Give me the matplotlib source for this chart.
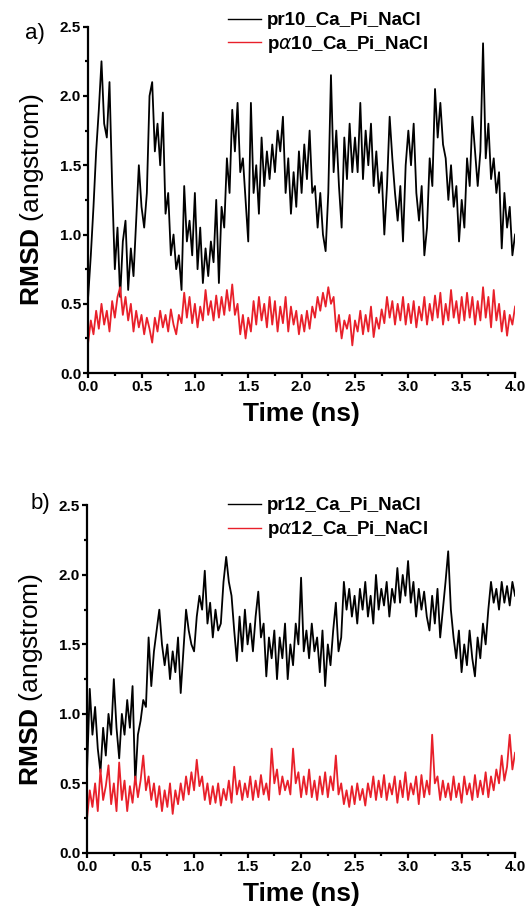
import numpy as np
import matplotlib
matplotlib.use('Agg')
import matplotlib.pyplot as plt
from matplotlib.ticker import MultipleLocator

plt.rcParams['font.family'] = ['Liberation Sans', 'DejaVu Sans']
plt.rcParams['mathtext.fontset'] = 'custom'
plt.rcParams['mathtext.rm'] = 'Liberation Sans'
plt.rcParams['mathtext.bf'] = 'Liberation Sans:bold'

# time axis (ns), one value read every 0.025 ns
time_ns = np.arange(161) * 0.025

# panel a, values
pr10 = [0.55, 0.85, 1.2, 1.6, 1.9, 2.25, 1.8, 1.7, 2.1, 1.35,
        0.75, 1.05, 0.55, 0.95, 1.1, 0.6, 0.9, 0.7, 1.1, 1.5,
        1.2, 1.05, 1.3, 2.0, 2.1, 1.6, 1.8, 1.5, 1.88, 1.15,
        1.3, 0.85, 1.0, 0.75, 0.85, 0.6, 1.35, 0.95, 1.1, 0.85,
        1.3, 0.75, 1.05, 0.65, 0.9, 0.7, 0.95, 0.8, 1.25, 0.65,
        1.2, 1.05, 1.55, 1.3, 1.9, 1.6, 1.95, 1.45, 1.55, 1.25,
        0.95, 1.95, 1.3, 1.5, 1.15, 1.7, 1.35, 1.6, 1.4, 1.65,
        1.45, 1.75, 1.6, 1.85, 1.3, 1.55, 1.15, 1.45, 1.2, 1.6,
        1.3, 1.65, 1.4, 1.75, 1.3, 1.35, 1.05, 1.3, 1.0, 0.88,
        1.3, 2.15, 1.45, 1.75, 1.35, 1.05, 1.7, 1.4, 1.8, 1.45,
        1.7, 1.45, 1.95, 1.4, 1.75, 1.5, 1.8, 1.35, 1.6, 1.3,
        1.45, 1.0, 1.35, 1.85, 1.55, 1.3, 1.1, 1.35, 0.95, 1.5,
        1.75, 1.5, 1.8, 1.3, 1.1, 1.35, 0.85, 1.05, 1.55, 1.35,
        2.05, 1.7, 1.95, 1.65, 1.55, 1.25, 1.5, 1.2, 1.35, 0.95,
        1.25, 1.05, 1.55, 1.35, 1.85, 1.6, 1.35, 1.6, 2.38, 1.55,
        1.8, 1.4, 1.55, 1.3, 1.45, 0.9, 1.3, 1.05, 1.2, 0.85,
        1.0]
pa10 = [0.22, 0.38, 0.28, 0.45, 0.32, 0.5, 0.35, 0.45, 0.3, 0.52,
        0.4, 0.55, 0.62, 0.42, 0.55, 0.38, 0.5, 0.3, 0.45, 0.33,
        0.42, 0.28, 0.4, 0.32, 0.22, 0.4, 0.3, 0.45, 0.33, 0.42,
        0.3, 0.46, 0.35, 0.28, 0.42, 0.36, 0.58, 0.4, 0.55, 0.36,
        0.5, 0.33, 0.48, 0.38, 0.6, 0.42, 0.52, 0.38, 0.56, 0.4,
        0.55, 0.42, 0.6, 0.45, 0.64, 0.42, 0.5, 0.28, 0.42, 0.25,
        0.4, 0.3, 0.52, 0.35, 0.55, 0.38, 0.5, 0.33, 0.55, 0.35,
        0.52, 0.3, 0.48, 0.36, 0.55, 0.3, 0.48, 0.35, 0.45, 0.28,
        0.42, 0.3, 0.45, 0.32, 0.48, 0.4, 0.55, 0.45, 0.58, 0.48,
        0.62, 0.5, 0.55, 0.3, 0.42, 0.25, 0.38, 0.32, 0.42, 0.2,
        0.38, 0.3, 0.45, 0.28, 0.42, 0.3, 0.48, 0.26, 0.4, 0.32,
        0.46, 0.36, 0.55, 0.4, 0.52, 0.35, 0.5, 0.38, 0.55, 0.35,
        0.5, 0.36, 0.52, 0.33, 0.48, 0.38, 0.55, 0.35, 0.5, 0.38,
        0.56, 0.4, 0.58, 0.35, 0.5, 0.38, 0.6, 0.4, 0.52, 0.36,
        0.55, 0.38, 0.58, 0.4, 0.55, 0.35, 0.52, 0.38, 0.62, 0.4,
        0.55, 0.33, 0.6, 0.38, 0.5, 0.3, 0.45, 0.27, 0.42, 0.35,
        0.48]

# panel b
pr12 = [0.6, 1.18, 0.85, 1.05, 0.75, 0.58, 0.9, 0.7, 1.0, 0.85,
        1.25, 0.9, 0.68, 1.0, 0.85, 1.1, 0.9, 1.2, 0.5, 0.85,
        0.95, 1.1, 1.05, 1.55, 1.2, 1.45, 1.6, 1.75, 1.5, 1.35,
        1.5, 1.25, 1.45, 1.3, 1.55, 1.15, 1.45, 1.75, 1.6, 1.5,
        1.45, 1.7, 1.85, 1.75, 2.03, 1.65, 1.8, 1.55, 1.75, 1.6,
        1.65, 1.95, 2.13, 1.95, 1.85, 1.6, 1.38, 1.7, 1.45, 1.75,
        1.5, 1.65, 1.45, 1.7, 1.88, 1.55, 1.65, 1.27, 1.55, 1.4,
        1.6, 1.25, 1.55, 1.4, 1.65, 1.25, 1.5, 1.35, 1.65, 1.5,
        1.98, 1.45, 1.6, 1.4, 1.65, 1.45, 1.55, 1.3, 1.6, 1.2,
        1.5, 1.35, 1.6, 1.8, 1.45, 1.55, 1.95, 1.75, 1.9, 1.7,
        1.85, 1.65, 1.9, 1.75, 1.95, 1.7, 1.85, 1.65, 2.0, 1.75,
        1.9, 1.78, 1.95, 1.7, 1.9, 1.8, 2.05, 1.8, 2.0, 1.85,
        2.1, 1.8, 1.95, 1.7, 1.9, 1.75, 1.88, 1.7, 1.6, 1.85,
        1.65, 1.9, 1.55, 1.75, 1.95, 2.17, 1.75, 1.55, 1.4, 1.6,
        1.3, 1.5, 1.35, 1.6, 1.4, 1.27, 1.55, 1.4, 1.65, 1.5,
        1.75, 1.95, 1.8, 1.9, 1.75, 1.95, 1.8, 1.92, 1.78, 1.95,
        1.85]
pa12 = [0.25, 0.45, 0.33, 0.5, 0.3, 0.6, 0.38, 0.48, 0.63, 0.35,
        0.5, 0.3, 0.65, 0.38, 0.52, 0.3, 0.48, 0.36, 0.55, 0.4,
        0.52, 0.7, 0.45, 0.55, 0.38, 0.5, 0.33, 0.48, 0.3, 0.45,
        0.33, 0.5, 0.28, 0.45, 0.35, 0.5, 0.38, 0.55, 0.42, 0.58,
        0.45, 0.67, 0.48, 0.55, 0.38, 0.5, 0.35, 0.48, 0.36, 0.5,
        0.34, 0.46, 0.38, 0.52, 0.36, 0.62, 0.42, 0.52, 0.38, 0.5,
        0.4, 0.55, 0.38, 0.52, 0.4, 0.56, 0.42, 0.5, 0.38, 0.75,
        0.5, 0.6, 0.42, 0.55, 0.45, 0.52, 0.42, 0.75, 0.5, 0.58,
        0.4, 0.55, 0.42, 0.6, 0.4, 0.52, 0.38, 0.55, 0.42, 0.58,
        0.4, 0.55, 0.45, 0.7, 0.42, 0.5, 0.35, 0.45, 0.33, 0.48,
        0.35, 0.5, 0.38, 0.46, 0.34, 0.5, 0.4, 0.55, 0.38, 0.52,
        0.4, 0.56, 0.38, 0.5, 0.42, 0.55, 0.36, 0.52, 0.4, 0.58,
        0.38, 0.5, 0.42, 0.55, 0.35, 0.56, 0.4, 0.52, 0.42, 0.85,
        0.5, 0.55, 0.38, 0.52, 0.4, 0.5, 0.38, 0.55, 0.4, 0.5,
        0.36, 0.55, 0.42, 0.5, 0.38, 0.56, 0.4, 0.52, 0.42, 0.58,
        0.4, 0.55, 0.45, 0.6, 0.5, 0.7, 0.52, 0.62, 0.85, 0.6,
        0.72]

panels = [
    ('a)', pr10, pa10, 'pr10_Ca_Pi_NaCl', r'p$\alpha$10_Ca_Pi_NaCl'),
    ('b)', pr12, pa12, 'pr12_Ca_Pi_NaCl', r'p$\alpha$12_Ca_Pi_NaCl'),
]
# [left, bottom, width, height] in figure fractions
boxes = [[0.166, 0.594, 0.804, 0.377], [0.164, 0.072, 0.806, 0.378]]
legend_y = [0.995, 0.467]
label_pos = [(0.047, 0.964), (0.057, 0.452)]

fig = plt.figure(figsize=(5.31, 9.19), dpi=100)

for k, (tag, black, red, lab_b, lab_r) in enumerate(panels):
    ax = fig.add_axes(boxes[k])
    ax.plot(time_ns, black, color='black', lw=1.3, label=lab_b)
    ax.plot(time_ns, red, color='#e8202a', lw=1.3, label=lab_r)
    ax.set_xlim(0, 4.0)
    ax.set_ylim(0, 2.5)
    ax.xaxis.set_major_locator(MultipleLocator(0.5))
    ax.xaxis.set_minor_locator(MultipleLocator(0.25))
    ax.yaxis.set_major_locator(MultipleLocator(0.5))
    ax.yaxis.set_minor_locator(MultipleLocator(0.25))
    for s in ['top', 'right']:
        ax.spines[s].set_visible(False)
    for s in ['left', 'bottom']:
        ax.spines[s].set_linewidth(1.6)
    ax.tick_params(which='major', direction='out', length=3.5, width=1.6,
                   labelsize=11, pad=1.5)
    ax.tick_params(which='minor', direction='out', length=2.5, width=1.6)
    for t in ax.get_xticklabels() + ax.get_yticklabels():
        t.set_fontweight('bold')
    ax.set_xlabel('Time (ns)', fontsize=19, fontweight='bold', labelpad=6)
    ax.set_ylabel(r'$\mathbf{RMSD}$ (angstrom)', fontsize=19, labelpad=10)
    leg = ax.legend(loc='upper left', bbox_to_anchor=(0.415, legend_y[k]),
                    bbox_transform=fig.transFigure, frameon=False,
                    prop={'size': 13.5, 'weight': 'bold'}, handlelength=1.75,
                    handletextpad=0.35, labelspacing=0.25, borderaxespad=0)
    for line in leg.get_lines():
        line.set_linewidth(1.0)
    fig.text(label_pos[k][0], label_pos[k][1], tag, fontsize=16,
             ha='left', va='center')

fig.savefig('out.png', dpi=100)
